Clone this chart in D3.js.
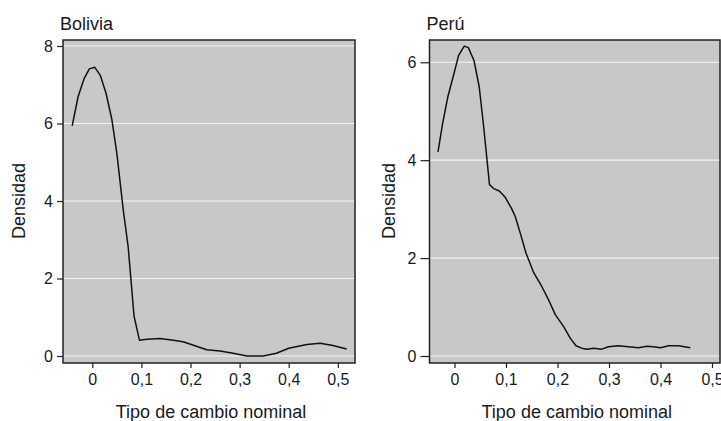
<!DOCTYPE html>
<html>
<meta charset="utf-8"/>
<head>
<title>Densidad tipo de cambio</title>
<script src="https://d3js.org/d3.v7.min.js"></script>
<style>
  body { margin: 0; background: #fff; }
  text { font-family: "Liberation Sans", Arial, sans-serif; fill: #1a1a1a; }
</style>
</head>
<body>
<script>
// datos
var boliviaX = [-0.041, -0.029, -0.017, -0.006, 0.005, 0.016, 0.028, 0.040, 0.050, 0.063, 0.073, 0.085, 0.096,
                0.111, 0.138, 0.165, 0.185, 0.206, 0.233, 0.260, 0.287, 0.315, 0.348, 0.375, 0.400, 0.437,
                0.464, 0.490, 0.518];
var boliviaY = [5.94, 6.69, 7.15, 7.41, 7.45, 7.25, 6.78, 6.09, 5.23, 3.77, 2.82, 1.03, 0.41,
                0.43, 0.45, 0.41, 0.37, 0.28, 0.16, 0.13, 0.07, 0.0, 0.0, 0.07, 0.20, 0.30,
                0.33, 0.27, 0.18];

var peruX = [-0.032, -0.023, -0.013, -0.002, 0.008, 0.019, 0.027, 0.038, 0.048, 0.056, 0.068, 0.076, 0.087,
             0.098, 0.111, 0.118, 0.128, 0.139, 0.153, 0.170, 0.183, 0.196, 0.212, 0.225, 0.236, 0.247,
             0.257, 0.270, 0.286, 0.299, 0.318, 0.338, 0.357, 0.374, 0.386, 0.400, 0.416, 0.435, 0.458];
var peruY = [4.17, 4.75, 5.29, 5.73, 6.14, 6.33, 6.30, 6.03, 5.50, 4.75, 3.50, 3.42, 3.37,
             3.25, 3.01, 2.85, 2.50, 2.10, 1.72, 1.41, 1.14, 0.84, 0.60, 0.36, 0.21, 0.16,
             0.14, 0.16, 0.14, 0.19, 0.21, 0.19, 0.17, 0.20, 0.19, 0.17, 0.21, 0.21, 0.17];

var xTicks = [0, 0.1, 0.2, 0.3, 0.4, 0.5];
var xTickLabels = ["0", "0,1", "0,2", "0,3", "0,4", "0,5"];
var boliviaYTicks = [0, 2, 4, 6, 8];
var peruYTicks = [0, 2, 4, 6];

var xTitle = "Tipo de cambio nominal";
var yTitle = "Densidad";

var svg = d3.select("body").append("svg")
    .attr("width", 721)
    .attr("height", 421);

var panels = [
  {title: "Bolivia", xs: boliviaX, ys: boliviaY, yTicks: boliviaYTicks,
   left: 63, right: 355, xDomain: [-0.0597, 0.535], yDomain: [-0.18, 8.155], tick: 6, yTitleX: 25},
  {title: "Perú", xs: peruX, ys: peruY, yTicks: peruYTicks,
   left: 429.5, right: 720, xDomain: [-0.0485, 0.5155], yDomain: [-0.143, 6.455], tick: 9, yTitleX: 395}
];
var plotTop = 40, plotBottom = 363;

panels.forEach(function(p) {
  var x = d3.scaleLinear().domain(p.xDomain).range([p.left, p.right]);
  var y = d3.scaleLinear().domain(p.yDomain).range([plotBottom, plotTop]);
  var g = svg.append("g");

  g.append("rect")
    .attr("x", p.left).attr("y", plotTop)
    .attr("width", p.right - p.left).attr("height", plotBottom - plotTop)
    .attr("fill", "#c7c8ca");

  // rejilla
  g.selectAll("line.grid").data(p.yTicks).enter().append("line")
    .attr("class", "grid")
    .attr("x1", p.left).attr("x2", p.right)
    .attr("y1", function(d) { return y(d); })
    .attr("y2", function(d) { return y(d); })
    .attr("stroke", "#f4f4f4").attr("stroke-width", 1.2);

  var pts = p.xs.map(function(d, i) { return [d, p.ys[i]]; });
  var line = d3.line()
    .x(function(d) { return x(d[0]); })
    .y(function(d) { return y(d[1]); });

  g.append("path").datum(pts)
    .attr("d", line)
    .attr("fill", "none")
    .attr("stroke", "#111")
    .attr("stroke-width", 1.5)
    .attr("stroke-linejoin", "round");

  // marco
  g.append("rect")
    .attr("x", p.left).attr("y", plotTop)
    .attr("width", p.right - p.left).attr("height", plotBottom - plotTop)
    .attr("fill", "none").attr("stroke", "#222").attr("stroke-width", 1.5);

  var xAxis = d3.axisBottom(x).tickValues(xTicks).tickSize(5).tickPadding(6)
    .tickFormat(function(d, i) { return xTickLabels[i]; });
  var ga = g.append("g").attr("transform", "translate(0," + plotBottom + ")").call(xAxis);
  ga.select(".domain").remove();
  ga.selectAll("line").attr("stroke", "#222").attr("stroke-width", 1.2);
  ga.selectAll("text").style("font-size", "16px").attr("fill", "#1a1a1a");

  var yAxis = d3.axisLeft(y).tickValues(p.yTicks).tickSize(p.tick).tickPadding(4)
    .tickFormat(d3.format("d"));
  var gy = g.append("g").attr("transform", "translate(" + p.left + ",0)").call(yAxis);
  gy.select(".domain").remove();
  gy.selectAll("line").attr("stroke", "#222").attr("stroke-width", 1.2);
  gy.selectAll("text").style("font-size", "16px").attr("fill", "#1a1a1a");

  g.append("text")
    .attr("x", p.left - 3).attr("y", 30)
    .style("font-size", "18px")
    .text(p.title);

  g.append("text")
    .attr("x", (p.left + p.right) / 2 + 2).attr("y", 418)
    .attr("text-anchor", "middle")
    .style("font-size", "18px")
    .text(xTitle);

  g.append("text")
    .attr("transform", "translate(" + p.yTitleX + "," + 201 + ") rotate(-90)")
    .attr("text-anchor", "middle")
    .style("font-size", "18px")
    .text(yTitle);
});
</script>
</body>
</html>
